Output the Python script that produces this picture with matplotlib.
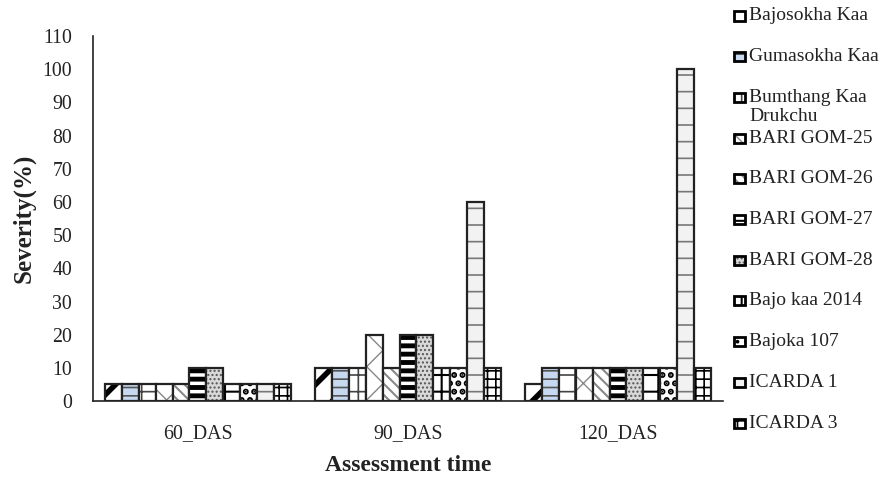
import numpy as np
import matplotlib
matplotlib.use("Agg")
import matplotlib.pyplot as plt
from matplotlib.colors import to_rgba
from matplotlib.patches import Rectangle

plt.rcParams['font.family'] = ['Liberation Serif', 'DejaVu Serif']

times = ["60_DAS", "90_DAS", "120_DAS"]
varieties = ["Bajosokha Kaa", "Gumasokha Kaa", "Bumthang Kaa\nDrukchu", "BARI GOM-25",
             "BARI GOM-26", "BARI GOM-27", "BARI GOM-28", "Bajo kaa 2014",
             "Bajoka 107", "ICARDA 1", "ICARDA 3"]

# severity (%) per variety at 60, 90 and 120 DAS
bajosokha = [5, 10, 5]
gumasokha = [5, 10, 10]
bumthang = [5, 10, 10]
bari25 = [5, 20, 10]
bari26 = [5, 10, 10]
bari27 = [10, 20, 10]
bari28 = [10, 20, 10]
bajokaa2014 = [5, 10, 10]
bajoka107 = [5, 10, 10]
icarda1 = [5, 60, 100]
icarda3 = [5, 10, 10]
series = [bajosokha, gumasokha, bumthang, bari25, bari26, bari27, bari28,
          bajokaa2014, bajoka107, icarda1, icarda3]

# face colour, hatch, hatch colour, hatch width
styles = [
    ("white", "/", "black", 4.0),
    ("#c6d9f1", "--", "#555555", 1.2),
    ("white", "+", "#444444", 1.2),
    ("white", "x", "#888888", 1.0),
    ("white", "\\\\\\", "#888888", 1.5),
    ("white", "--", "black", 3.5),
    ("#d9d9d9", "....", "#555555", 1.0),
    ("white", "+", "black", 1.5),
    ("white", "..", "black", 3.0),
    ("#f2f2f2", "-", "#777777", 1.2),
    ("white", "++", "black", 1.2),
]


def style_patch(p, hc, hlw):
    p.set_edgecolor("#222222")
    p._hatch_color = to_rgba(hc)
    if hasattr(p, "set_hatch_linewidth"):
        p.set_hatch_linewidth(hlw)


fig = plt.figure(figsize=(8.85, 4.82), dpi=100)
ax = fig.add_axes([0.105, 0.168, 0.712, 0.757])

n = len(series)
x = np.arange(len(times))
w = 0.886 / n
for i, (vals, (fc, hatch, hc, hlw)) in enumerate(zip(series, styles)):
    plt.rcParams['hatch.linewidth'] = hlw
    bars = ax.bar(x - 0.443 + w * (i + 0.5), vals, w, facecolor=fc, hatch=hatch,
                  linewidth=1.6)
    for b in bars:
        style_patch(b, hc, hlw)

ax.set_xlim(-0.5, 2.5)
ax.set_ylim(0, 110)
ax.set_yticks(range(0, 111, 10))
ax.set_xticks(x)
ax.set_xticklabels(times)
ax.tick_params(axis="both", length=0, labelsize=14.3, labelcolor="#222222")
ax.tick_params(axis="y", pad=15)
ax.tick_params(axis="x", pad=16.5)
for s in ["top", "right"]:
    ax.spines[s].set_visible(False)
for s in ["left", "bottom"]:
    ax.spines[s].set_color("#222222")
    ax.spines[s].set_linewidth(1.2)
ax.set_ylabel("Severity(%)", fontsize=18, fontweight="bold", labelpad=5, color="#222222")
ax.set_xlabel("Assessment time", fontsize=17, fontweight="bold", labelpad=9, color="#222222")

# legend drawn by hand so the wrapped label keeps the row spacing
W, H = fig.get_size_inches() * fig.dpi
for i, (name, (fc, hatch, hc, hlw)) in enumerate(zip(varieties, styles)):
    yc = 16 + i * 40.7
    plt.rcParams['hatch.linewidth'] = min(hlw, 1.5)
    r = Rectangle((734 / W, 1 - (yc + 4.5) / H), 11 / W, 9 / H, transform=fig.transFigure,
                  facecolor=fc, linewidth=2.0, hatch=hatch)
    style_patch(r, hc, min(hlw, 1.5))
    r.set_edgecolor("black")
    r._hatch_color = to_rgba(hc)
    fig.add_artist(r)
    lines = name.split("\n")
    fig.text(749 / W, 1 - yc / H, lines[0], fontsize=14, color="#222222",
             va="center", ha="left")
    if len(lines) > 1:
        fig.text(749 / W, 1 - (yc + 19) / H, lines[1], fontsize=14, color="#222222",
                 va="center", ha="left")

fig.savefig("out.png", dpi=100)
